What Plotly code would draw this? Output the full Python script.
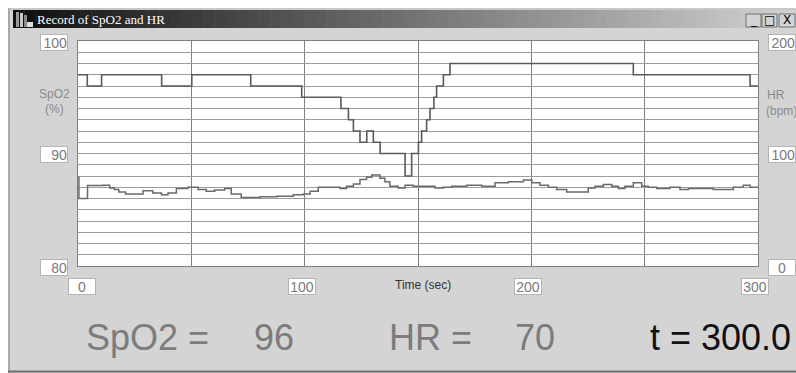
import plotly.graph_objects as go

# ---------------- data ----------------
spo2_t = [0, 4.1, 10.4, 36.9, 50.2, 76.2, 98.7, 116, 119.3, 121.5, 124.4, 127.4,
          130.3, 133.3, 144.3, 147.2, 150.2, 151.6, 153.8, 155.3, 157.0, 158.2,
          161.2, 164.1, 245, 296.5, 300]
spo2_v = [97, 96, 97, 96, 97, 96, 95, 94, 93, 92, 91, 92,
          91, 90, 88, 90, 91, 92, 93, 94, 95, 96,
          97, 98, 97, 96, 96]

hr_t = [0, 0.4, 4.2, 11, 14, 16, 18, 21, 28.7, 33, 36.8, 39.7, 43.4, 48.5, 53, 56.6,
        60.3, 64.7, 67.6, 72, 80.3, 87.7, 95, 99.4, 102.4, 106, 115.6, 118.5, 121.5,
        124.4, 127.3, 129.6, 133.2, 135.4, 137.6, 141.3, 144.3, 147.9, 157.5, 161.2,
        164.9, 171.5, 178.1, 184, 189.9, 196.5, 200.2, 203.8, 207.5, 211.2, 215.6,
        225.1, 228.1, 231.8, 235.5, 238.4, 241.3, 245, 248.7, 251.6, 255.3, 261.2,
        265.6, 269.3, 280.3, 289.1, 293.5, 296.5, 300]
hr_v = [79, 60, 71.5, 71.8, 69.4, 67.9, 65.8, 64, 67, 65, 63.3, 65, 68.8, 70, 67.9, 66.4,
        67.6, 68.8, 64, 61, 61.5, 62, 63.3, 64, 66.4, 70, 68.8, 70.9, 73,
        77, 79, 81, 78, 75, 71, 69.4, 71.8, 71, 69.4, 70,
        71, 71.8, 71, 74, 75, 76.4, 74, 71.8, 70, 67.9, 65.8,
        69.4, 71, 72.4, 71, 68.8, 71, 74, 71, 70, 68.8, 70,
        67.9, 68.8, 67.9, 70, 71.8, 70, 70]

x_ticks = [0, 100, 200, 300]
spo2_ticks = [100, 90, 80]
hr_ticks = [200, 100, 0]

# ---------------- geometry helpers (page pixels -> paper) ----------------
W, H = 796, 373
L, R, T, B = 78, 758, 41, 266   # plot area in pixels


def px(x):
    return (x - L) / (R - L)


def py(y):
    return (B - y) / (B - T)


PANEL = "#d4d4d4"

fig = go.Figure()
fig.add_trace(go.Scatter(x=spo2_t, y=spo2_v, mode="lines", line=dict(shape="hv", color="#5a5a5a", width=1.6),
                         hoverinfo="skip", showlegend=False))
fig.add_trace(go.Scatter(x=hr_t, y=hr_v, mode="lines", yaxis="y2",
                         line=dict(shape="hv", color="#6a6a6a", width=1.5),
                         hoverinfo="skip", showlegend=False))

shapes = []
# white outside of window
shapes.append(dict(type="rect", xref="paper", yref="paper", x0=px(0), x1=px(W), y0=py(0), y1=py(8),
                   fillcolor="white", line_width=0))
shapes.append(dict(type="rect", xref="paper", yref="paper", x0=px(0), x1=px(8), y0=py(0), y1=py(H),
                   fillcolor="white", line_width=0))
# window edges
shapes.append(dict(type="line", xref="paper", yref="paper", x0=px(9), x1=px(9), y0=py(8), y1=py(H),
                   line=dict(color="#a8a8a8", width=2)))
shapes.append(dict(type="line", xref="paper", yref="paper", x0=px(8), x1=px(W), y0=py(9), y1=py(9),
                   line=dict(color="#bcbcbc", width=1)))
shapes.append(dict(type="line", xref="paper", yref="paper", x0=px(8), x1=px(W), y0=py(371.5), y1=py(371.5),
                   line=dict(color="#6e6e6e", width=2)))
# title bar gradient
n = 70
x_start, x_end = 13, 796
for i in range(n):
    f = i / (n - 1)
    c = int(16 + (210 - 16) * f)
    x0 = x_start + (x_end - x_start) * i / n
    x1 = x_start + (x_end - x_start) * (i + 1) / n + 0.5
    shapes.append(dict(type="rect", xref="paper", yref="paper", x0=px(x0), x1=px(x1), y0=py(10), y1=py(28),
                       fillcolor=f"rgb({c},{c},{c})", line_width=0))
# title icon
for (a, b, top, col) in [(16, 19, 12, "#9a9a9a"), (20, 23, 13, "#c8c8c8"), (24, 27, 15, "#8a8a8a")]:
    shapes.append(dict(type="rect", xref="paper", yref="paper", x0=px(a), x1=px(b), y0=py(27), y1=py(top),
                       fillcolor=col, line_width=0))
shapes.append(dict(type="rect", xref="paper", yref="paper", x0=px(27), x1=px(33), y0=py(27), y1=py(22),
                   fillcolor="#e0e0e0", line_width=0))
# window buttons
for (a, b) in [(746, 761), (762, 777), (779, 795)]:
    shapes.append(dict(type="rect", xref="paper", yref="paper", x0=px(a), x1=px(b), y0=py(27), y1=py(14),
                       fillcolor=PANEL, line=dict(color="#707070", width=1)))

annotations = []
# window title
annotations.append(dict(text="Record of SpO2 and HR", xref="paper", yref="paper", x=px(35), y=py(19),
                        xanchor="left", yanchor="middle", showarrow=False,
                        font=dict(family="Liberation Serif", size=13, color="white")))
for (a, b, s) in [(746, 761, "_"), (762, 777, "□"), (779, 795, "X")]:
    annotations.append(dict(text=s, xref="paper", yref="paper", x=px((a + b) / 2), y=py(20.5),
                            xanchor="center", yanchor="middle", showarrow=False,
                            font=dict(family="DejaVu Sans", size=12, color="black")))

box = dict(bgcolor="white", bordercolor="#b4b4b4", borderwidth=1, borderpad=0,
           width=26, height=15, showarrow=False,
           font=dict(family="Liberation Sans", size=14, color="#7a7a7a"))

for v in spo2_ticks:
    annotations.append(dict(box, text=str(v), xref="paper", yref="y", x=px(68), y=v, xanchor="right",
                            yanchor="middle", yshift=-1, align="right"))
for v in hr_ticks:
    annotations.append(dict(box, text=str(v), xref="paper", yref="y2", x=px(768), y=v, xanchor="left",
                            yanchor="middle", yshift=-1, align="right" if v else "center"))
for v in x_ticks:
    annotations.append(dict(box, text=str(v), xref="x", yref="paper", x=v, y=py(286), xanchor="center",
                            yanchor="middle", xshift=4 if v == 0 else -3, align="center"))

lab_font = dict(family="Liberation Sans", size=12, color="#8a8a8a")
annotations.append(dict(text="SpO2", xref="paper", yref="paper", x=px(54), y=py(94), showarrow=False,
                        xanchor="center", yanchor="middle", font=lab_font))
annotations.append(dict(text="(%)", xref="paper", yref="paper", x=px(54), y=py(109), showarrow=False,
                        xanchor="center", yanchor="middle", font=lab_font))
annotations.append(dict(text="HR", xref="paper", yref="paper", x=px(765), y=py(95), showarrow=False,
                        xanchor="left", yanchor="middle", font=lab_font))
annotations.append(dict(text="(bpm)", xref="paper", yref="paper", x=px(764), y=py(111), showarrow=False,
                        xanchor="left", yanchor="middle", font=lab_font))
annotations.append(dict(text="Time (sec)", xref="paper", yref="paper", x=px(423), y=py(285), showarrow=False,
                        xanchor="center", yanchor="middle",
                        font=dict(family="Liberation Sans", size=12, color="#333333")))

big = 36
gray_big = dict(family="Liberation Sans", size=big, color="#7c7c7c")
read_y = py(337)
annotations.append(dict(text="SpO2 =", xref="paper", yref="paper", x=px(84), y=read_y, showarrow=False,
                        xanchor="left", yanchor="middle", font=gray_big))
annotations.append(dict(text=f"{spo2_v[-1]:.0f}", xref="paper", yref="paper", x=px(252), y=read_y,
                        showarrow=False, xanchor="left", yanchor="middle", font=gray_big))
annotations.append(dict(text="HR =", xref="paper", yref="paper", x=px(387), y=read_y, showarrow=False,
                        xanchor="left", yanchor="middle", font=gray_big))
annotations.append(dict(text=f"{hr_v[-1]:.0f}", xref="paper", yref="paper", x=px(513), y=read_y,
                        showarrow=False, xanchor="left", yanchor="middle", font=gray_big))
annotations.append(dict(text=f"t = {hr_t[-1]:.1f}", xref="paper", yref="paper", x=px(648), y=read_y,
                        showarrow=False, xanchor="left", yanchor="middle",
                        font=dict(family="Liberation Sans", size=big, color="#111111")))

fig.update_layout(
    width=W, height=H, autosize=False,
    margin=dict(l=L, r=W - R, t=T, b=H - B, pad=0),
    paper_bgcolor=PANEL, plot_bgcolor="white",
    showlegend=False,
    xaxis=dict(range=[0, 300], dtick=50, showgrid=True, gridcolor="#7e7e7e", gridwidth=1,
               showticklabels=False, ticks="", zeroline=False, showline=True, mirror=True,
               linecolor="#7e7e7e", linewidth=1, fixedrange=True),
    yaxis=dict(range=[80, 100], dtick=1, showgrid=True, gridcolor="#9c9c9c", gridwidth=1,
               showticklabels=False, ticks="", zeroline=False, showline=True, mirror=True,
               linecolor="#7e7e7e", linewidth=1, fixedrange=True),
    yaxis2=dict(range=[0, 200], overlaying="y", side="right", showgrid=False, showticklabels=False,
                ticks="", zeroline=False, showline=False, fixedrange=True),
    shapes=shapes,
    annotations=annotations,
)

fig.write_html(
    "out.html",
    config={"displayModeBar": False},
    post_script=("document.body.style.margin='0';"
                 "document.body.style.overflow='hidden';"
                 "document.documentElement.style.overflow='hidden';"),
)
